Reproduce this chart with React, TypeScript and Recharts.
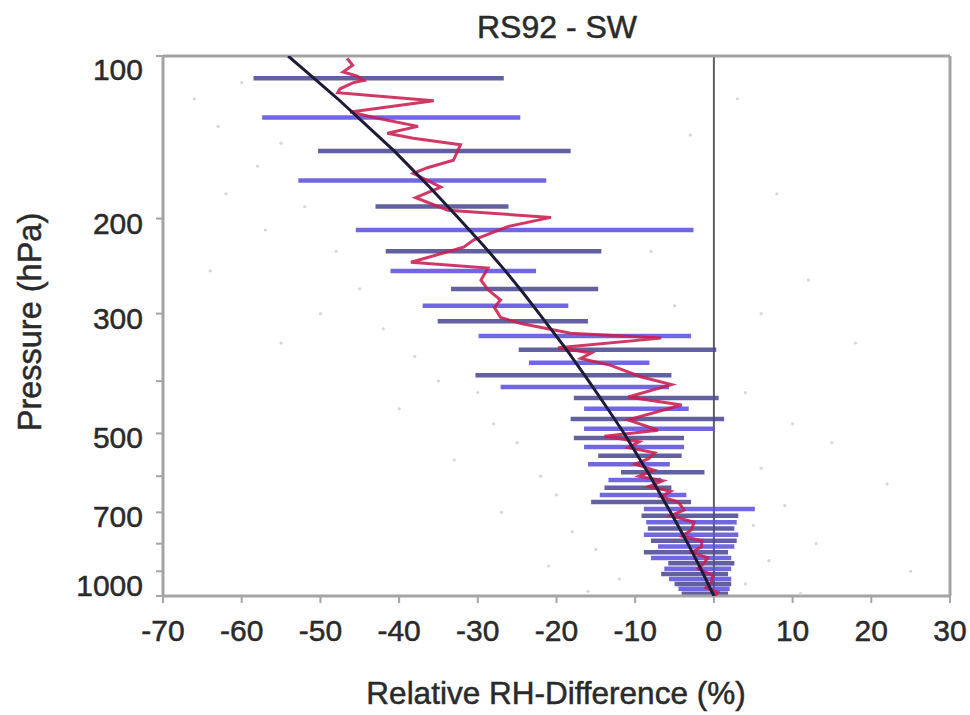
import { ScatterChart, Scatter, XAxis, YAxis, ReferenceLine, ErrorBar, Label } from "recharts"

const FONT = "'Liberation Sans', Arial, sans-serif"

const xTicks = [-70, -60, -50, -40, -30, -20, -10, 0, 10, 20, 30]
const pressureTicks = [100, 200, 300, 400, 500, 600, 700, 800, 900, 1000]
const pressureLabels = [100, 200, 300, 500, 700, 1000]

// spread bars, one per 20 hPa level
const barLevels = [
  110, 130, 150, 170, 190, 210, 230, 250, 270, 290, 310, 330, 350, 370, 390, 410, 430, 450, 470, 490, 510, 530, 550,
  570, 590, 610, 630, 650, 670, 690, 710, 730, 750, 770, 790, 810, 830, 850, 870, 890, 910, 930, 950, 970, 990,
]
const barLow = [
  -58.5, -57.4, -50.3, -52.8, -43.0, -45.5, -41.7, -41.1, -33.4, -37.0, -35.1, -29.9, -24.8, -23.5, -30.3, -27.1,
  -17.8, -16.5, -18.2, -16.5, -17.8, -16.5, -14.7, -16.0, -11.8, -13.4, -13.9, -14.5, -15.6, -8.9, -9.2, -8.6, -8.4,
  -8.9, -8.0, -7.1, -8.9, -8.0, -5.8, -6.3, -6.7, -5.7, -5.0, -4.5, -4.1,
]
const barHigh = [
  -26.7, -24.6, -18.2, -21.3, -26.1, -2.6, -14.3, -22.6, -14.7, -18.5, -16.0, -2.9, 0.3, -8.2, -5.4, -5.7, 0.6, -3.2,
  1.3, 0.1, -3.8, -3.8, -4.1, -5.6, -1.2, -6.7, -5.4, -3.5, -2.9, 5.2, 3.1, 2.9, 2.6, 3.1, 2.9, 2.6, 1.8, 2.2, 2.6, 2.2,
  1.8, 2.2, 2.2, 2.0, 1.8,
]

// mean difference profile (red)
const meanP = [
  101, 104, 107, 109, 111, 112, 115, 117, 121, 127, 130, 135, 139, 142, 146, 156, 161, 165, 175, 183, 193, 199, 207,
  219, 226, 241, 247, 260, 271, 283, 292, 305, 313, 326, 333, 347, 355, 363, 374, 393, 406, 428, 443, 472, 493, 506,
  518, 531, 543, 557, 570, 585, 600, 612, 627, 640, 655, 670, 693, 710, 730, 755, 775, 790, 811, 830, 850, 868, 890,
  915, 943, 965, 985, 1000,
]
const meanDiff = [
  -46.6, -45.9, -47.1, -45.3, -44.5, -45.8, -47.5, -47.8, -35.6, -46.2, -43.2, -37.6, -41.5, -38.2, -32.2, -33.1,
  -36.4, -38.2, -34.7, -37.9, -33.8, -20.7, -26.2, -30.5, -31.8, -38.5, -28.7, -29.6, -28.7, -27.1, -27.9, -27.1,
  -24.5, -18.2, -6.7, -19.8, -15.6, -16.9, -13.1, -9.2, -5.4, -10.9, -4.1, -10.9, -7.1, -13.9, -9.5, -10.9, -7.5,
  -8.3, -10.0, -7.6, -9.5, -6.5, -8.3, -5.5, -6.7, -4.5, -3.8, -5.5, -2.5, -2.9, -4.0, -1.5, -1.6, -2.8, -0.8, -1.2,
  -2.0, -0.2, -0.3, -1.0, 0.5, 0.1,
]

// smooth fit (black)
const fitP = [100, 110, 120, 135, 150, 175, 200, 225, 250, 275, 300, 350, 400, 450, 500, 600, 700, 800, 900, 1000]
const fitDiff = [
  -54.1, -50.8, -47.8, -44.0, -40.6, -36.1, -32.4, -29.2, -26.5, -24.2, -22.2, -18.7, -15.9, -13.5, -11.4, -8.1, -5.5,
  -3.3, -1.5, 0,
]

// faint individual soundings
const noiseP = [
  120, 135, 112, 160, 145, 180, 190, 210, 230, 250, 270, 300, 320, 360, 340, 400, 420, 450, 480, 520, 560, 600, 650,
  700, 760, 820, 880, 930, 980, 120, 180, 260, 300, 340, 420, 480, 520, 580, 620, 680, 740, 800, 860, 900, 950, 990,
  140, 230, 290,
]
const noiseDiff = [
  -66, -63, -60, -58, -55, -62, -52, -57, -48, -64, -45, -50, -42, -38, -55, -35, -30, -40, -28, -25, -33, -22, -20,
  -27, -18, -15, -21, -12, -16, 3, 8, 12, 6, 18, 4, 10, 15, 6, 22, 9, 5, 13, 7, 25, 4, 11, -3, -8, -5,
]

const bars = barLevels.map((p, i) => {
  const mid = (barLow[i] + barHigh[i]) / 2
  return { p, diff: mid, err: [mid - barLow[i], barHigh[i] - mid] }
})
const navyBars = bars.filter((_, i) => i % 2 === 0)
const blueBars = bars.filter((_, i) => i % 2 === 1)
const meanData = meanP.map((p, i) => ({ p, diff: meanDiff[i] }))
const fitData = fitP.map((p, i) => ({ p, diff: fitDiff[i] }))
const noiseData = noiseP.map((p, i) => ({ p, diff: noiseDiff[i] }))

const frame = { stroke: "#a4a4a4", strokeWidth: 3 }
const tickLine = { stroke: "#a4a4a4", strokeWidth: 2 }
const txt = { fill: "#2a2a2a", stroke: "#2a2a2a", strokeWidth: 0.5, fontFamily: FONT }
const NoShape = () => <g />

const PressureTick = (props: any) => {
  const { x, y, payload } = props
  if (!pressureLabels.includes(payload.value)) return <g />
  let shift = 15
  if (payload.value === 100) shift = 24
  if (payload.value === 1000) shift = 0
  return (
    <text x={x} y={y + shift} textAnchor="end" fontSize={30} {...txt}>
      {payload.value}
    </text>
  )
}

export default function App() {
  return (
    <div style={{ position: "absolute", left: 0, top: 0, width: 970, height: 715, background: "#fff", overflow: "hidden" }}>
      <ScatterChart width={970} height={715} margin={{ top: 46, right: 10, bottom: 0, left: 0 }}>
        <XAxis
          type="number"
          dataKey="diff"
          domain={[-70, 30]}
          ticks={xTicks}
          interval={0}
          allowDataOverflow
          height={119}
          axisLine={frame}
          tickLine={tickLine}
          tickSize={7}
          tickMargin={17}
          tick={{ fontSize: 30, ...txt }}
        >
          <Label
            content={() => (
              <text x={556} y={704} textAnchor="middle" fontSize={31.5} {...txt}>
                Relative RH-Difference (%)
              </text>
            )}
          />
        </XAxis>
        <XAxis
          xAxisId="top"
          orientation="top"
          type="number"
          dataKey="diff"
          domain={[-70, 30]}
          ticks={xTicks}
          interval={0}
          allowDataOverflow
          height={10}
          axisLine={frame}
          tickLine={tickLine}
          tickSize={7}
          tick={false}
        >
          <Label
            content={() => (
              <text x={557} y={38} textAnchor="middle" fontSize={32} {...txt}>
                RS92 - SW
              </text>
            )}
          />
        </XAxis>
        <YAxis
          type="number"
          dataKey="p"
          scale="log"
          domain={[100, 1000]}
          reversed
          ticks={pressureTicks}
          interval={0}
          allowDataOverflow
          width={163}
          axisLine={frame}
          tickLine={tickLine}
          tickSize={7}
          tickMargin={13}
          tick={<PressureTick />}
        >
          <Label
            content={() => (
              <text x={41} y={322} transform="rotate(-90 41 322)" textAnchor="middle" fontSize={32.5} {...txt}>
                Pressure (hPa)
              </text>
            )}
          />
        </YAxis>
        <YAxis
          yAxisId="right"
          orientation="right"
          type="number"
          dataKey="p"
          scale="log"
          domain={[100, 1000]}
          reversed
          ticks={pressureTicks}
          interval={0}
          allowDataOverflow
          width={10}
          axisLine={frame}
          tickLine={tickLine}
          tickSize={7}
          tick={false}
        />
        <Scatter
          data={noiseData}
          fill="#d6d6d6"
          isAnimationActive={false}
          shape={(p: any) => <circle cx={p.cx} cy={p.cy} r={1.6} fill="#d6d6d6" />}
        />
        <ReferenceLine x={0} stroke="#5e5e5e" strokeWidth={2} />
        <Scatter data={navyBars} shape={NoShape} isAnimationActive={false}>
          <ErrorBar dataKey="err" direction="x" width={0} stroke="#4c4a92" strokeWidth={4.5} strokeOpacity={0.88} isAnimationActive={false} />
        </Scatter>
        <Scatter data={blueBars} shape={NoShape} isAnimationActive={false}>
          <ErrorBar dataKey="err" direction="x" width={0} stroke="#5e52de" strokeWidth={4.5} strokeOpacity={0.88} isAnimationActive={false} />
        </Scatter>
        <Scatter
          data={meanData}
          shape={NoShape}
          line={{ stroke: "#cc1d4f", strokeWidth: 3, strokeOpacity: 0.88 }}
          isAnimationActive={false}
        />
        <Scatter data={fitData} shape={NoShape} line={{ stroke: "#1c1c38", strokeWidth: 3 }} isAnimationActive={false} />
      </ScatterChart>
    </div>
  )
}
